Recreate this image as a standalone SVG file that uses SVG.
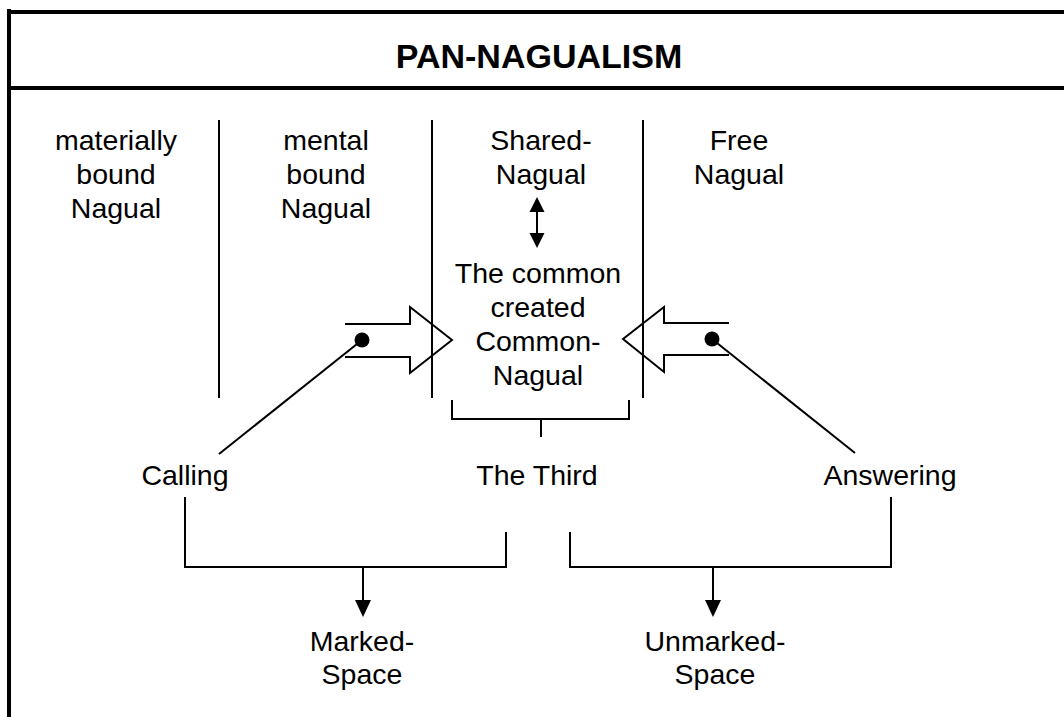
<svg xmlns="http://www.w3.org/2000/svg" width="1064" height="717" viewBox="0 0 1064 717">
<style>
.frame{stroke:#000;stroke-width:4;fill:none}
.ln{stroke:#000;stroke-width:2;fill:none}
.t{font-family:"Liberation Sans",Arial,sans-serif;font-size:28.5px;fill:#000;text-anchor:middle}
.title{font-family:"Liberation Sans",Arial,sans-serif;font-size:34px;font-weight:bold;fill:#000;text-anchor:middle}
.head{fill:#000;stroke:none}
</style>
<rect width="1064" height="717" fill="#fff"/>
<g id="frame">
<line class="frame" x1="9" y1="9" x2="9" y2="717"/>
<line class="frame" x1="7" y1="12" x2="1064" y2="12"/>
<line class="frame" x1="7" y1="88" x2="1064" y2="88"/>
</g>
<g id="title"><text class="title" x="539" y="68">PAN-NAGUALISM</text></g>
<g id="dividers">
<line class="ln" x1="219" y1="120" x2="219" y2="398"/>
<line class="ln" x1="432" y1="120" x2="432" y2="398"/>
<line class="ln" x1="643" y1="120" x2="643" y2="398"/>
</g>
<g id="materially-bound"><text class="t" x="116" y="150">materially</text><text class="t" x="116" y="184">bound</text><text class="t" x="116" y="218">Nagual</text></g>
<g id="mental-bound"><text class="t" x="326" y="150">mental</text><text class="t" x="326" y="184">bound</text><text class="t" x="326" y="218">Nagual</text></g>
<g id="shared"><text class="t" x="541" y="150">Shared-</text><text class="t" x="541" y="184">Nagual</text></g>
<g id="free"><text class="t" x="739" y="150">Free</text><text class="t" x="739" y="184">Nagual</text></g>
<g id="common"><text class="t" x="538" y="283">The common</text><text class="t" x="538" y="317">created</text><text class="t" x="538" y="351">Common-</text><text class="t" x="538" y="385">Nagual</text></g>
<g id="calling"><text class="t" x="185" y="485">Calling</text></g>
<g id="third"><text class="t" x="537" y="485">The Third</text></g>
<g id="answering"><text class="t" x="890" y="485">Answering</text></g>
<g id="marked"><text class="t" x="362" y="651">Marked-</text><text class="t" x="362" y="684">Space</text></g>
<g id="unmarked"><text class="t" x="715" y="651">Unmarked-</text><text class="t" x="715" y="684">Space</text></g>
<g id="connectors">
<line class="ln" x1="537" y1="210" x2="537" y2="235"/>
<polygon class="head" points="537,197 544.5,212 529.5,212"/>
<polygon class="head" points="537,248 544.5,233 529.5,233"/>
<path class="ln" d="M345,324 H410 V307 L452,340 L410,373 V357 H345"/>
<path class="ln" d="M729,323 H664 V307 L623,339 L664,372 V355 H729"/>
<circle cx="362" cy="340" r="7.5" fill="#000"/>
<circle cx="712" cy="339" r="7.5" fill="#000"/>
<line class="ln" x1="362" y1="340" x2="219" y2="454"/>
<line class="ln" x1="712" y1="339" x2="855" y2="453"/>
<path class="ln" d="M452,400 V419 H629 V400"/>
<line class="ln" x1="541" y1="419" x2="541" y2="437"/>
<path class="ln" d="M185,497 V567 H506 V532"/>
<path class="ln" d="M570,532 V567 H891 V497"/>
<line class="ln" x1="363" y1="567" x2="363" y2="602"/>
<polygon class="head" points="363,617 371,600 355,600"/>
<line class="ln" x1="713" y1="567" x2="713" y2="602"/>
<polygon class="head" points="713,617 721,600 705,600"/>
</g>
</svg>
